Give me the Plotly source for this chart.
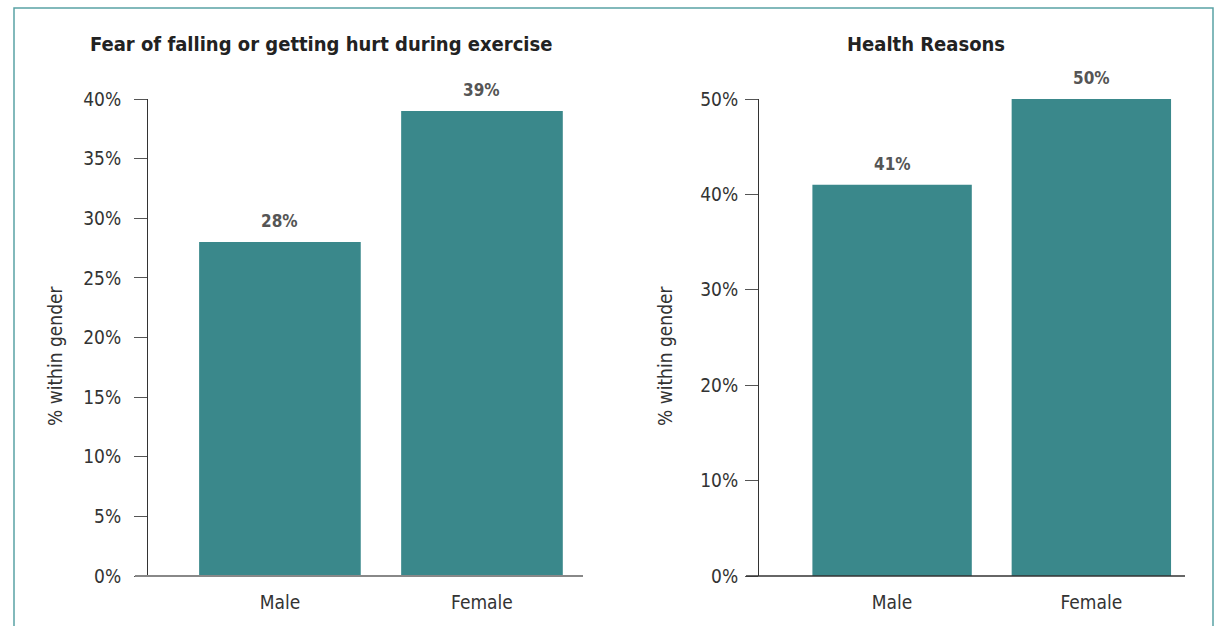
import plotly.graph_objects as go

W, H = 1216, 626

genders = ["Male", "Female"]
fear_pct = [28, 39]
health_pct = [41, 50]
fear_ticks = [0, 5, 10, 15, 20, 25, 30, 35, 40]
health_ticks = [0, 10, 20, 30, 40, 50]

BAR = "#3a888b"
FONT = "Liberation Sans Narrow, DejaVu Sans Condensed, Arial Narrow, sans-serif"


def px_x(v):
    return v / W


def px_y(v):
    return 1 - v / H


fig = go.Figure()
fig.add_trace(go.Bar(x=genders, y=fear_pct, xaxis="x", yaxis="y",
                     marker_color=BAR, marker_line_width=0))
fig.add_trace(go.Bar(x=genders, y=health_pct, xaxis="x2", yaxis="y2",
                     marker_color=BAR, marker_line_width=0))

ydom = [px_y(576), px_y(99)]
tickfont = dict(family=FONT, size=19, color="#333333")

xcommon = dict(showline=False, ticks="outside", ticklen=9,
               tickcolor="rgba(0,0,0,0)", tickfont=tickfont,
               showgrid=False, zeroline=False, automargin=False, fixedrange=True)
ycommon = dict(showline=True, linecolor="#333333", linewidth=1,
               ticks="outside", ticklen=13, tickcolor="#555555",
               tickfont=tickfont, showgrid=False, zeroline=False,
               automargin=False, fixedrange=True)

fig.update_layout(
    width=W, height=H,
    margin=dict(l=0, r=0, t=0, b=0, autoexpand=False),
    paper_bgcolor="white", plot_bgcolor="white",
    showlegend=False, bargap=0.2,
    font=dict(family=FONT, color="#333333"),
    xaxis=dict(domain=[px_x(148), px_x(583)], anchor="y",
               range=[-0.653, 1.5], **xcommon),
    yaxis=dict(domain=ydom, anchor="x", range=[0, 40],
               tickvals=fear_ticks, ticktext=[f"{t}%" for t in fear_ticks],
               ticklabelstandoff=9, **ycommon),
    xaxis2=dict(domain=[px_x(759), px_x(1185)], anchor="y2",
                range=[-0.668, 1.47], **xcommon),
    yaxis2=dict(domain=ydom, anchor="x2", range=[0, 50],
                tickvals=health_ticks, ticktext=[f"{t}%" for t in health_ticks],
                ticklabelstandoff=3, **ycommon),
)

# value labels above each bar
label_font = dict(family=FONT, size=17, color="#555555")
for xa, ya, vals in (("x", "y", fear_pct), ("x2", "y2", health_pct)):
    for g, v in zip(genders, vals):
        fig.add_annotation(text=f"<b>{v}%</b>", xref=xa, yref=ya, x=g, y=v,
                           xanchor="center", yanchor="bottom", yshift=9,
                           showarrow=False, font=label_font)

# baselines extend under the tick marks
fig.add_shape(type="line", xref="paper", yref="paper",
              x0=px_x(135), x1=px_x(583), y0=px_y(576), y1=px_y(576),
              line=dict(color="#888888", width=2))
fig.add_shape(type="line", xref="paper", yref="paper",
              x0=px_x(746), x1=px_x(1185), y0=px_y(576), y1=px_y(576),
              line=dict(color="#333333", width=1.5))

# outer frame
fig.add_shape(type="rect", xref="paper", yref="paper",
              x0=px_x(14), x1=px_x(1213), y0=px_y(640), y1=px_y(8),
              line=dict(color="#5aa3a5", width=1.5), fillcolor="rgba(0,0,0,0)")

title_font = dict(family=FONT, size=20, color="#222222")
fig.add_annotation(text="<b>Fear of falling or getting hurt during exercise</b>",
                   xref="paper", yref="paper", x=px_x(321), y=px_y(44),
                   xanchor="center", yanchor="middle",
                   showarrow=False, font=title_font)
fig.add_annotation(text="<b>Health Reasons</b>",
                   xref="paper", yref="paper", x=px_x(926), y=px_y(44),
                   xanchor="center", yanchor="middle",
                   showarrow=False, font=title_font)

ytitle_font = dict(family=FONT, size=19, color="#333333")
for xpos in (55, 665):
    fig.add_annotation(text="% within gender", textangle=-90,
                       xref="paper", yref="paper", x=px_x(xpos), y=px_y(356),
                       xanchor="center", yanchor="middle",
                       showarrow=False, font=ytitle_font)

fig.write_html("out.html")
